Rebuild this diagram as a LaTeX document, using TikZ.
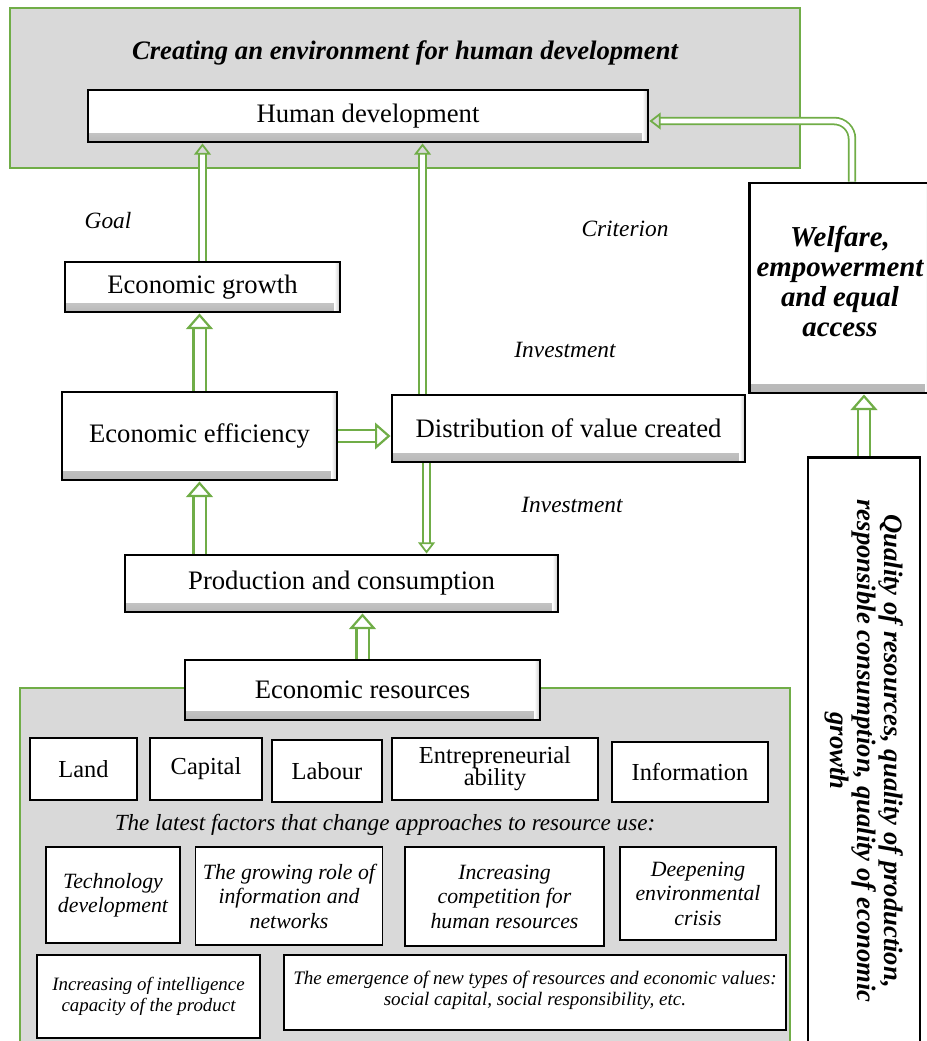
\documentclass[tikz,border=0pt]{standalone}
\usepackage{fontspec}
\setmainfont{Liberation Serif}
\usetikzlibrary{arrows.meta,calc}
\definecolor{dg}{HTML}{70AD47}
\definecolor{panelgray}{HTML}{D9D9D9}
\newdimen\px \px=0.45pt
\tikzset{
    panel/.style = {rectangle,
                    fill=panelgray,
                    draw=dg,
                    line width=1pt},
    bigbox/.style = {rectangle,
                    fill=white,
                    draw=black,
                    text=black,
                    line width=1.3pt,
                    align=center,
                    font=\fontsize{12}{14}\selectfont,
                    path picture={
                        \shade[top color=white,bottom color=black!28] (path picture bounding box.south west) rectangle ([yshift=4pt]path picture bounding box.south east);
                        \shade[left color=white,right color=black!22] ([xshift=-2.5pt]path picture bounding box.south east) rectangle (path picture bounding box.north east);}},
    resbox/.style = {rectangle,
                    fill=white,
                    draw=black,
                    line width=0.8pt,
                    align=center,
                    font=\fontsize{11}{10}\selectfont},
    factor/.style = {rectangle,
                    fill=white,
                    draw=black,
                    line width=0.8pt,
                    align=center,
                    font=\itshape\fontsize{9.8}{11}\selectfont},
    note/.style =   {font=\itshape\fontsize{10.5}{12}\selectfont},
    fat/.style =    {draw=dg,
                    double=white,
                    line width=1pt,
                    double distance=4.5pt,
                    -{Triangle[open,length=7pt,width=12pt,line width'=1pt]}},
    slim/.style =   {draw=dg,
                    double=white,
                    line width=0.8pt,
                    double distance=2.2pt,
                    -{Triangle[open,length=5pt,width=7.5pt,line width'=0.8pt]}}
}
\begin{document}
\begin{tikzpicture}[x=0.45pt,y=-0.45pt]
            \useasboundingbox (0,0) rectangle (927,1041);
            \node[panel,minimum width=790\px,minimum height=160\px] (env) at (405,88) {};
            \node[panel,minimum width=770\px,minimum height=357\px] (res) at (405,866.5) {};
            \node[font=\bfseries\itshape\fontsize{12}{14}\selectfont] (envtitle) at (405,53) {Creating an environment for human development};
            \node[bigbox,minimum width=560\px,minimum height=52\px] (hd) at (368,116) {Human development};
            \node[bigbox,minimum width=275\px,minimum height=50\px] (eg) at (202.5,287) {Economic growth};
            \node[bigbox,minimum width=275\px,minimum height=88\px] (ee) at (199.5,436) {Economic efficiency};
            \node[bigbox,minimum width=353\px,minimum height=67\px] (dist) at (568.5,428.5) {Distribution of value created};
            \node[bigbox,minimum width=433\px,minimum height=57\px] (prod) at (341.5,583.5) {Production and consumption};
            \node[bigbox,minimum width=355\px,minimum height=60\px] (ecres) at (362.5,690) {Economic resources};
            \node[bigbox,minimum width=170\px,minimum height=210\px,font=\bfseries\itshape\fontsize{13}{13.5}\selectfont] (wel) at (840,288) {Welfare,\\ empowerment\\ and equal\\ access\\[-7.5pt]};
            \node[bigbox,rotate=-90,minimum width=587\px,minimum height=112\px,font=\bfseries\itshape\fontsize{12}{10.5}\selectfont] (qual) at (864,751) {Quality of resources, quality of production,\\ responsible consumption, quality of economic\\ growth};
            \node[note] (goal) at (108,221) {Goal};
            \node[note] (crit) at (625,229) {Criterion};
            \node[note] (inva) at (565,350) {Investment};
            \node[note] (invb) at (572,505) {Investment};
            \node[resbox,minimum width=107\px,minimum height=62\px] (land) at (83.5,769) {Land};
            \node[resbox,minimum width=112\px,minimum height=62\px] (cap) at (206,769) {Capital};
            \node[resbox,minimum width=110\px,minimum height=62\px] (lab) at (327,771) {Labour};
            \node[resbox,minimum width=206\px,minimum height=62\px] (entr) at (495,769) {Entrepreneurial\\ ability};
            \node[resbox,minimum width=156\px,minimum height=60\px] (info) at (690,772) {Information};
            \node[font=\itshape\fontsize{10.4}{13}\selectfont] (latest) at (385,825) {The latest factors that change approaches to resource use:};
            \node[factor,minimum width=134\px,minimum height=96\px] (tech) at (113,895) {Technology\\ development};
            \node[factor,minimum width=182\px,minimum height=98\px] (grow) at (289,896) {The growing role of\\ information and\\ networks};
            \node[factor,minimum width=199\px,minimum height=99\px] (comp) at (504.5,896.5) {Increasing\\ competition for\\ human resources};
            \node[factor,minimum width=156\px,minimum height=93\px] (deep) at (698,893.5) {Deepening\\ environmental\\ crisis};
            \node[factor,minimum width=223\px,minimum height=83\px,font=\itshape\fontsize{8.5}{9.5}\selectfont] (intel) at (148.5,996.5) {Increasing of intelligence\\ capacity of the product};
            \node[factor,minimum width=502\px,minimum height=75\px,font=\itshape\fontsize{8.6}{9.5}\selectfont] (emerg) at (535,992.5) {The emergence of new types of resources and economic values:\\ social capital, social responsibility, etc.\\[-6pt]};
            \coordinate (dtop) at ($(dist.north west)+(32,0)$);
            \coordinate (dbot) at ($(dist.south west)+(36,0)$);
            \draw[slim] (eg.north) -- (eg.north |- hd.south);
            \draw[slim] (dtop) -- (dtop |- hd.south);
            \draw[slim,rounded corners=8pt] ([xshift=12\px]wel.north) |- ([yshift=-5\px]hd.east);
            \draw[fat] (ee.north) -- (ee.north |- eg.south);
            \draw[fat] (ee.east) -- (ee.east -| dist.west);
            \draw[slim] (dbot) -- (dbot |- prod.north);
            \draw[fat] (ee.south |- prod.north) -- (ee.south);
            \draw[fat] (ecres.north) -- (ecres.north |- prod.south);
            \draw[fat] (qual.west) -- (qual.west |- wel.south);
        \end{tikzpicture}
\end{document}
